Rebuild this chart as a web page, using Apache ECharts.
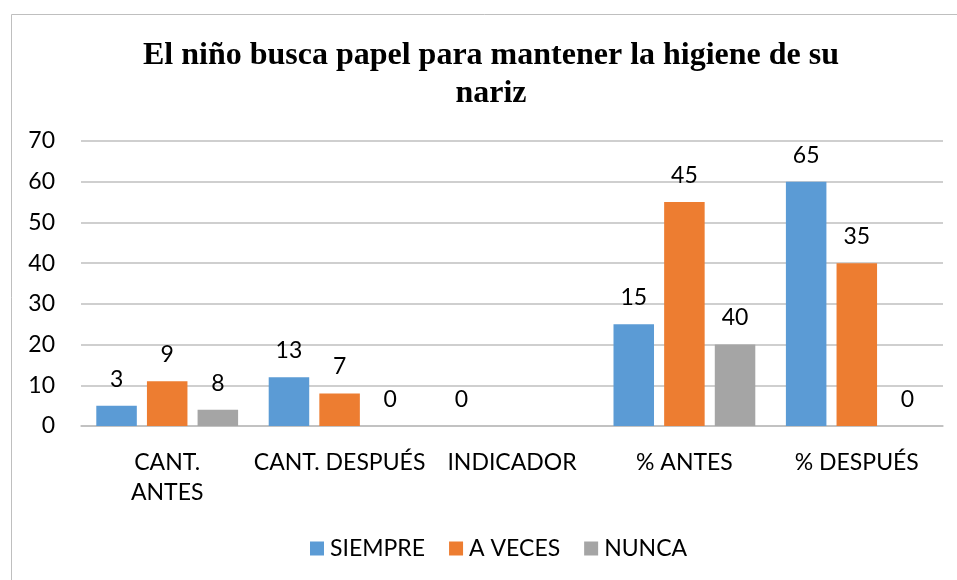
<!DOCTYPE html>
<html>
<head>
<meta charset="utf-8">
<script src="https://cdn.jsdelivr.net/npm/echarts@6/dist/echarts.min.js"></script>
<style>html,body{margin:0;padding:0;background:#fff;}#c{width:957px;height:580px;}</style>
</head>
<body>
<div id="c"></div>
<script>
var titleText = 'El niño busca papel para mantener la higiene de su\nnariz';
var categories = ['CANT. ANTES', 'CANT. DESPUÉS', 'INDICADOR', '% ANTES', '% DESPUÉS'];
var seriesNames = ['SIEMPRE', 'A VECES', 'NUNCA'];
// bar heights as drawn
var siempre = [5, 12, 0, 25, 60];
var aVeces = [11, 8, null, 55, 40];
var nunca = [4, 0, null, 20, 0];
// data labels as printed
var siempreLabels = ['3', '13', '0', '15', '65'];
var aVecesLabels = ['9', '7', '', '45', '35'];
var nuncaLabels = ['8', '0', '', '40', '0'];
var yTicks = [0, 10, 20, 30, 40, 50, 60, 70];

var colors = ['#5b9bd5', '#ed7d31', '#a5a5a5'];
var font = 'Lato, "Open Sans", sans-serif';
var chart = echarts.init(document.getElementById('c'));

function mk(name, vals, labels, color) {
  return {
    name: name, type: 'bar', data: vals,
    barWidth: '23.5%', barGap: '25%',
    itemStyle: { color: color },
    label: {
      show: true, position: 'top', distance: 15,
      fontFamily: font, fontSize: 23, color: '#000',
      formatter: function (p) { return labels[p.dataIndex]; }
    }
  };
}

chart.setOption({
  animation: false,
  backgroundColor: '#fff',
  color: colors,
  graphic: [
    { type: 'rect', shape: { x: 11.5, y: 14.5, width: 1000, height: 700 },
      style: { fill: 'none', stroke: '#bfbfbf', lineWidth: 1 }, silent: true },
    { type: 'text', x: 491, y: 37, style: {
        text: titleText, fontFamily: '"Liberation Serif", "Times New Roman", serif',
        fontWeight: 'bold', fontSize: 32, lineHeight: 38, fill: '#000',
        align: 'center', verticalAlign: 'top' } }
  ],
  legend: {
    bottom: 15, left: 305, itemWidth: 14, itemHeight: 14, itemGap: 24,
    icon: 'rect',
    textStyle: { fontFamily: font, fontSize: 23, color: '#000', padding: [0, 0, 0, 1] },
    data: seriesNames
  },
  grid: { left: 81, right: 14, top: 141, bottom: 154, containLabel: false },
  xAxis: {
    type: 'category', data: categories,
    axisLine: { lineStyle: { color: '#bfbfbf', width: 1.5 } },
    axisTick: { show: false },
    axisLabel: {
      interval: 0, margin: 22, fontFamily: font, fontSize: 23, color: '#000', lineHeight: 30,
      formatter: function (v) { return v === 'CANT. ANTES' ? 'CANT.\nANTES' : v; },
      verticalAlign: 'top'
    }
  },
  yAxis: {
    type: 'value', min: yTicks[0], max: yTicks[yTicks.length - 1], interval: 10,
    axisLine: { show: false }, axisTick: { show: false },
    axisLabel: { margin: 26, fontFamily: font, fontSize: 23, color: '#000' },
    splitLine: { lineStyle: { color: '#bfbfbf', width: 1.5 } }
  },
  series: [
    mk(seriesNames[0], siempre, siempreLabels, colors[0]),
    mk(seriesNames[1], aVeces, aVecesLabels, colors[1]),
    mk(seriesNames[2], nunca, nuncaLabels, colors[2])
  ]
});
</script>
</body>
</html>
